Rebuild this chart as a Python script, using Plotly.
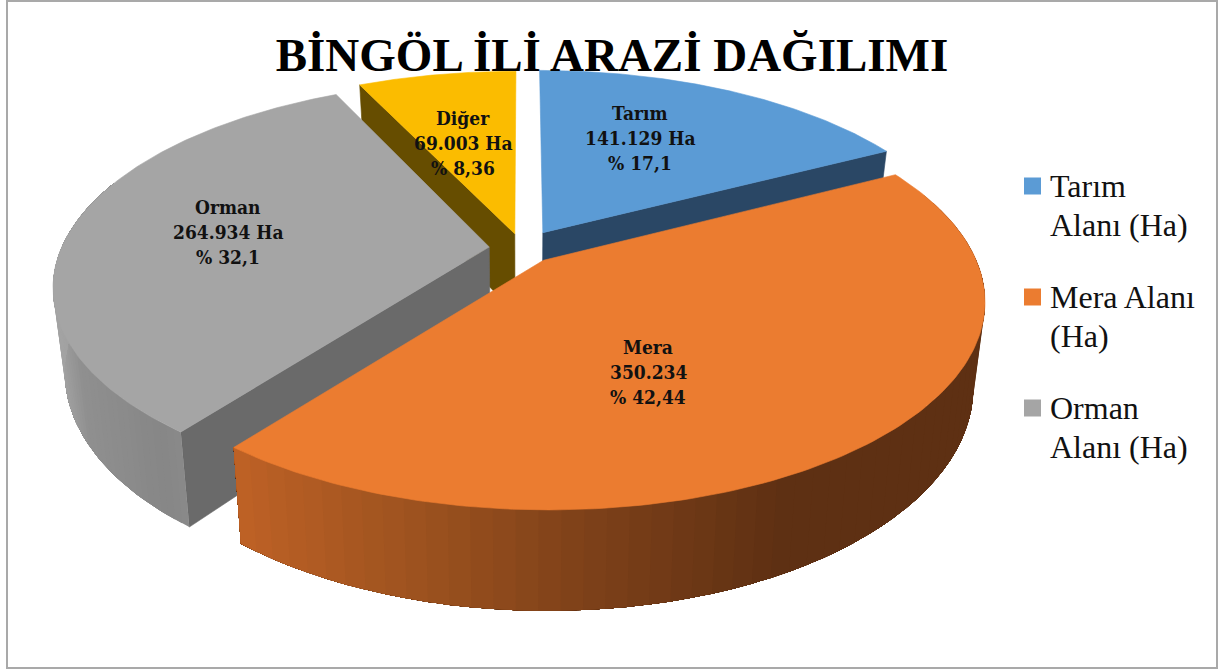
import numpy as np
import plotly.graph_objects as go

# ---- data ----
categories = ["Tarım", "Mera", "Orman", "Diğer"]
hectares_label = ["141.129 Ha", "350.234", "264.934 Ha", "69.003 Ha"]
percent_label = ["% 17,1", "% 42,44", "% 32,1", "% 8,36"]
# share of the circle that each slice actually occupies in the picture
drawn_share = [17.4, 42.9, 32.6, 7.1]
legend_lines = [["Tarım", "Alanı (Ha)"], ["Mera Alanı", "(Ha)"], ["Orman", "Alanı (Ha)"]]
title_text = "BİNGÖL İLİ ARAZİ DAĞILIMI"

# ---- styles ----
top_colors = ["#5b9bd5", "#eb7c30", "#a5a5a5", "#fbbc00"]
cut_colors = ["#2a4765", "#5e3013", "#6a6a6a", "#664d00"]
side_stops = {
    1: ([232, 420, 600, 790, 990], ["#bf6226", "#9c521f", "#7c4019", "#5e3013", "#5e3013"]),
    2: ([50, 80, 160, 190], ["#a6a6a6", "#909090", "#878787", "#8c8c8c"]),
}
explode = [0.095, 0.077, 0.077, 0.077]
front_overlap_deg = [0, 1.0, 0, 0]  # the front slice lies slightly over its neighbour
label_xy = [(640, 138), (648, 372), (228, 232), (463, 143)]
LINE_GAP = 25
legend_rows = [186, 297, 408]
LEGEND_LINE_GAP = 38.5
LEGEND_SWATCH_X, LEGEND_TEXT_X = 1032.5, 1048
SERIF = "Liberation Serif"
LABEL_FONT = "DejaVu Serif Condensed"

# ---- view ----
W, H = 1221, 670
CX, CY, RX, KY, DIST, DEPTH, BOTTOM_SCALE = 522, 248.5, 428, 198, 5.35, 81, 0.975


def project(X, Y, low=False):
    X, Y = np.asarray(X, float), np.asarray(Y, float)
    s = DIST / (DIST - Y)
    x = RX * X * s
    y = CY + KY * Y * s + (DEPTH * s if low else 0)
    return CX + x * (BOTTOM_SCALE if low else 1), y


def hex_rgb(c):
    return np.array([int(c[i:i + 2], 16) for i in (1, 3, 5)], float)


def color_at(x, stops):
    xs, cs = stops
    rgb = [np.interp(x, xs, [hex_rgb(c)[i] for c in cs]) for i in range(3)]
    return "rgb(%d,%d,%d)" % tuple(rgb)


def poly(xs, ys, color, edge=0.6):
    return go.Scatter(x=list(xs), y=list(ys), mode="lines", fill="toself", fillcolor=color,
                      line=dict(color=color, width=edge), hoverinfo="skip", showlegend=False)


fig = go.Figure()

edges = np.concatenate([[0], np.cumsum(drawn_share)]) / np.sum(drawn_share) * 2 * np.pi
for i in [3, 0, 2, 1]:  # back to front
    a0, a1 = edges[i], edges[i + 1]
    mid = (a0 + a1) / 2
    a1 = a1 + np.radians(front_overlap_deg[i])
    ox, oy = explode[i] * np.sin(mid), -explode[i] * np.cos(mid)
    t = np.linspace(a0, a1, 160)
    px, py = ox + np.sin(t), oy - np.cos(t)

    # inner cut faces that turn towards the viewer
    if i in (0, 2, 3):
        a = a1 if i == 0 else a0
        ex, ey = ox + np.sin(a), oy - np.cos(a)
        tx, ty = project([ox, ex], [oy, ey])
        bx, by = project([ox, ex], [oy, ey], low=True)
        fig.add_trace(poly([tx[0], tx[1], bx[1], bx[0], tx[0]],
                           [ty[0], ty[1], by[1], by[0], ty[0]], cut_colors[i]))

    # outer rim, shaded in strips; each strip runs to the far end so no seams show
    if i in side_stops:
        lo, hi = max(a0, np.radians(70)), min(a1, np.radians(290))
        tt = np.linspace(lo, hi, 61)
        rx_, ry_ = ox + np.sin(tt), oy - np.cos(tt)
        ux, uy = project(rx_, ry_)
        dx, dy = project(rx_, ry_, low=True)
        for j in range(len(tt) - 1):
            c = color_at((ux[j] + ux[j + 1]) / 2, side_stops[i])
            xs = np.r_[ux[j:], dx[j:][::-1], ux[j]]
            ys = np.r_[uy[j:], dy[j:][::-1], uy[j]]
            fig.add_trace(poly(xs, ys, c, edge=0))

    # top face
    fx, fy = project(np.r_[ox, px, ox], np.r_[oy, py, oy])
    fig.add_trace(poly(fx, fy, top_colors[i]))

# legend, laid out as in the reference: swatch beside the first text line
fig.add_trace(go.Scatter(x=[LEGEND_SWATCH_X] * 3, y=legend_rows, mode="markers", hoverinfo="skip",
                         showlegend=False,
                         marker=dict(symbol="square", size=17, color=top_colors[:3], line=dict(width=0))))
for row, lines in zip(legend_rows, legend_lines):
    for n, line in enumerate(lines):
        fig.add_annotation(x=LEGEND_TEXT_X, y=row + n * LEGEND_LINE_GAP, xref="x", yref="y",
                           xanchor="left", showarrow=False, text=line,
                           font=dict(family=SERIF, size=32, color="#111111"))

# data labels
for (x, y), c, h, p in zip(label_xy, categories, hectares_label, percent_label):
    for n, line in enumerate([c, h, p]):
        fig.add_annotation(x=x, y=y + (n - 1) * LINE_GAP, xref="x", yref="y", showarrow=False,
                           text=f"<b>{line}</b>",
                           font=dict(family=LABEL_FONT, size=19, color="#111111"))

fig.add_shape(type="rect", xref="x", yref="y", x0=7, x1=1217, y0=1, y1=668,
              line=dict(color="#a9a9a9", width=2), layer="below")

fig.update_layout(
    width=W, height=H, autosize=False,
    margin=dict(l=0, r=0, t=0, b=0),
    paper_bgcolor="white", plot_bgcolor="white",
    xaxis=dict(range=[0, W], visible=False, fixedrange=True),
    yaxis=dict(range=[H, 0], visible=False, fixedrange=True),
    title=dict(text=f"<b>{title_text}</b>", x=612 / W, xanchor="center", y=1 - 55 / H, yanchor="middle",
               font=dict(family=SERIF, size=47, color="black")),
    showlegend=False,
)
fig.write_html("out.html", config={"displayModeBar": False},
               post_script="document.body.style.margin='0';")
